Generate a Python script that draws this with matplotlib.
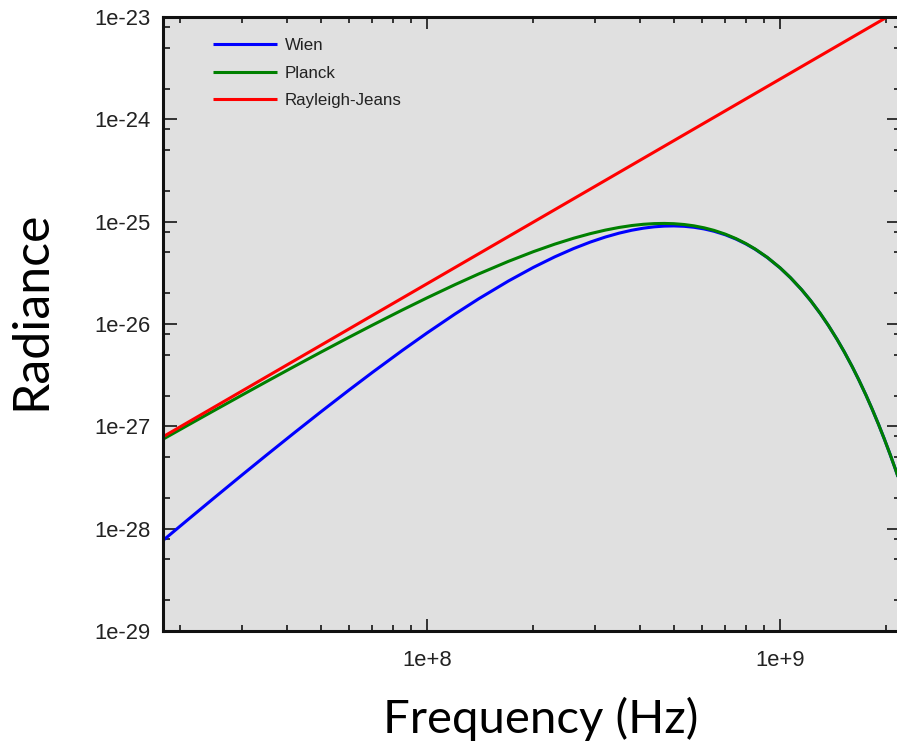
import matplotlib
matplotlib.use("Agg")
import matplotlib.pyplot as plt
from matplotlib.ticker import LogLocator, NullFormatter, FixedLocator, FixedFormatter

# ---- data ----
freq = [1.75e7, 2.1e7, 2.5e7, 3e7, 3.5e7, 4.2e7, 5e7, 6e7, 7e7, 8.5e7, 1e8,
        1.2e8, 1.4e8, 1.7e8, 2e8, 2.3e8, 2.6e8, 2.9e8, 3.2e8, 3.5e8, 3.8e8,
        4.1e8, 4.4e8, 4.7e8, 5e8, 5.35e8, 5.7e8, 6.1e8, 6.5e8, 7e8, 7.5e8,
        8e8, 8.5e8, 9.2e8, 1e9, 1.07e9, 1.15e9, 1.22e9, 1.3e9, 1.37e9, 1.45e9,
        1.52e9, 1.6e9, 1.67e9, 1.75e9, 1.82e9, 1.9e9, 1.97e9, 2.05e9, 2.12e9,
        2.2e9]
planck = [7.19e-28, 1.024e-27, 1.433e-27, 2.031e-27, 2.722e-27, 3.835e-27,
          5.299e-27, 7.391e-27, 9.740e-27, 1.368e-26, 1.801e-26,
          2.425e-26, 3.083e-26, 4.094e-26, 5.090e-26, 6.031e-26, 6.887e-26,
          7.639e-26, 8.273e-26, 8.782e-26, 9.166e-26, 9.427e-26, 9.572e-26,
          9.611e-26, 9.553e-26, 9.378e-26, 9.105e-26, 8.700e-26, 8.219e-26,
          7.546e-26, 6.832e-26, 6.110e-26, 5.405e-26, 4.478e-26, 3.539e-26,
          2.836e-26, 2.169e-26, 1.695e-26, 1.264e-26, 9.682e-27, 7.074e-27,
          5.335e-27, 3.835e-27, 2.855e-27, 2.025e-27, 1.491e-27, 1.046e-27,
          7.631e-28, 5.30e-28, 3.838e-28, 2.64e-28]
wien = [7.22e-29, 1.221e-28, 2.011e-28, 3.372e-28, 5.195e-28, 8.604e-28,
        1.383e-27, 2.250e-27, 3.363e-27, 5.499e-27, 8.177e-27,
        1.252e-26, 1.762e-26, 2.630e-26, 3.572e-26, 4.531e-26, 5.459e-26,
        6.318e-26, 7.079e-26, 7.725e-26, 8.246e-26, 8.638e-26, 8.904e-26,
        9.051e-26, 9.089e-26, 9.009e-26, 8.815e-26, 8.483e-26, 8.058e-26,
        7.437e-26, 6.759e-26, 6.062e-26, 5.373e-26, 4.461e-26, 3.531e-26,
        2.832e-26, 2.167e-26, 1.694e-26, 1.263e-26, 9.679e-27, 7.073e-27,
        5.335e-27, 3.835e-27, 2.855e-27, 2.025e-27, 1.491e-27, 1.046e-27,
        7.631e-28, 5.30e-28, 3.838e-28, 2.64e-28]
rj_freq = [1.75e7, 2.2e9]
rayleigh_jeans = [7.58e-28, 1.198e-23]

x_ticks = [1e8, 1e9]
x_tick_labels = ["1e+8", "1e+9"]
y_ticks = [1e-29, 1e-28, 1e-27, 1e-26, 1e-25, 1e-24, 1e-23]
y_tick_labels = ["1e-29", "1e-28", "1e-27", "1e-26", "1e-25", "1e-24", "1e-23"]
series_labels = ["Wien", "Planck", "Rayleigh-Jeans"]

# ---- figure ----
W, H = 897, 749
fig = plt.figure(figsize=(W / 100, H / 100), dpi=100)
ax = fig.add_axes([163 / W, 1 - 631 / H, (901 - 163) / W, (631 - 17) / H])
ax.set_facecolor("#e0e0e0")

ax.plot(freq, wien, color="#0000ff", lw=2.2, label=series_labels[0], solid_capstyle="butt")
ax.plot(freq, planck, color="#008000", lw=2.2, label=series_labels[1], solid_capstyle="butt")
ax.plot(rj_freq, rayleigh_jeans, color="#ff0000", lw=2.2, label=series_labels[2], solid_capstyle="butt")

ax.set_xscale("log")
ax.set_yscale("log")
ax.set_xlim(1.787e7, 2.2e9)
ax.set_ylim(1e-29, 1e-23)

ax.xaxis.set_major_locator(FixedLocator(x_ticks))
ax.xaxis.set_major_formatter(FixedFormatter(x_tick_labels))
ax.xaxis.set_minor_locator(LogLocator(base=10, subs=(2, 3, 4, 5, 6, 7, 8, 9), numticks=20))
ax.xaxis.set_minor_formatter(NullFormatter())
ax.yaxis.set_major_locator(FixedLocator(y_ticks))
ax.yaxis.set_major_formatter(FixedFormatter(y_tick_labels))
ax.yaxis.set_minor_locator(LogLocator(base=10, subs=(2, 5, 8), numticks=20))
ax.yaxis.set_minor_formatter(NullFormatter())

tick_font = "Liberation Sans"
ax.tick_params(axis="both", which="both", direction="in", top=True, right=True,
               color="#333333", width=1.4)
ax.tick_params(axis="y", which="major", length=10, pad=9, labelsize=15.8, labelcolor="#222222")
ax.tick_params(axis="y", which="minor", length=5)
ax.tick_params(axis="x", which="major", length=8.5, pad=14, labelsize=15.8, labelcolor="#222222")
ax.tick_params(axis="x", which="minor", length=4)
for lab in ax.get_xticklabels() + ax.get_yticklabels():
    lab.set_fontfamily(tick_font)

for s in ax.spines.values():
    s.set_linewidth(2.2)
    s.set_color("#111111")

ax.set_xlabel("Frequency (Hz)", fontsize=34, family="Lato", color="black")
ax.set_ylabel("Radiance", fontsize=36, family="Lato", color="black")
ax.xaxis.set_label_coords((541 - 163) / 738, (631 - 697) / 614)
ax.yaxis.set_label_coords((54 - 163) / 738, (631 - 310) / 614)

leg = ax.legend(loc="upper left", frameon=False, borderpad=0, borderaxespad=0,
                bbox_to_anchor=((213 - 163) / 738, 1 - (38 - 17) / 614),
                prop={"family": "Liberation Sans", "size": 12.2},
                handlelength=3.76, handletextpad=0.47, labelspacing=0.74)
for t in leg.get_texts():
    t.set_color("#222222")

fig.savefig("out.png", dpi=100)
